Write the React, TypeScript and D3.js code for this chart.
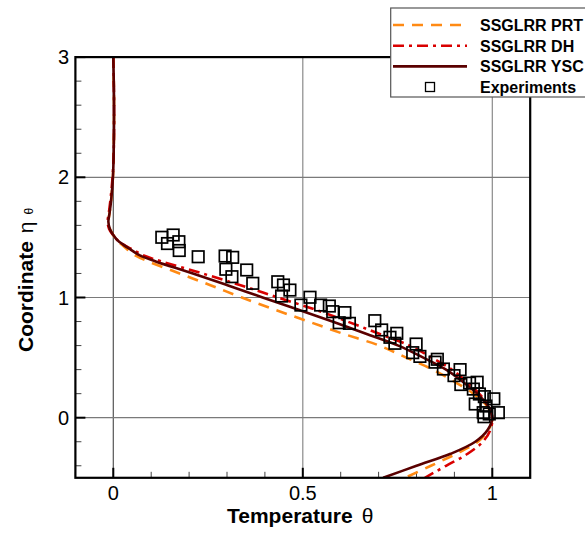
import React from "react";
import * as d3 from "d3";

const W = 585;
const H = 533;

const etaLevels = [3.0, 2.6, 2.2, 2.0, 1.8, 1.7, 1.63, 1.57, 1.52, 1.48, 1.44, 1.4, 1.35, 1.3, 1.2, 1.1, 1.0, 0.9, 0.8, 0.7, 0.6, 0.5, 0.4, 0.3, 0.2, 0.1, 0.0, -0.1, -0.2, -0.3, -0.4, -0.5];

const thetaYSC = [0.0, 0.002, 0.001, -0.001, -0.006, -0.01, -0.013, -0.009, 0.0, 0.01, 0.026, 0.045, 0.07, 0.112, 0.21, 0.303, 0.394, 0.487, 0.578, 0.665, 0.752, 0.818, 0.878, 0.922, 0.96, 0.988, 1.0, 0.988, 0.955, 0.89, 0.8, 0.712];

const thetaPRT = [0.0, 0.002, 0.001, -0.001, -0.006, -0.01, -0.013, -0.009, 0.0, 0.008, 0.022, 0.037, 0.058, 0.092, 0.175, 0.258, 0.339, 0.425, 0.515, 0.605, 0.702, 0.773, 0.843, 0.9, 0.95, 0.985, 1.0, 0.99, 0.962, 0.905, 0.838, 0.77];

const thetaDH = [0.0, 0.002, 0.001, -0.002, -0.008, -0.012, -0.015, -0.011, -0.001, 0.01, 0.027, 0.05, 0.08, 0.127, 0.235, 0.338, 0.434, 0.532, 0.618, 0.7, 0.782, 0.84, 0.893, 0.932, 0.965, 0.991, 1.0, 0.995, 0.975, 0.935, 0.878, 0.822];

const expTheta = [0.128, 0.158, 0.143, 0.173, 0.174, 0.224, 0.295, 0.315, 0.297, 0.313, 0.352, 0.368, 0.434, 0.449, 0.466, 0.444, 0.495, 0.519, 0.547, 0.57, 0.579, 0.611, 0.596, 0.623, 0.69, 0.708, 0.73, 0.748, 0.743, 0.799, 0.79, 0.809, 0.855, 0.849, 0.871, 0.915, 0.899, 0.917, 0.96, 0.94, 0.95, 0.966, 0.979, 1.004, 0.955, 0.983, 1.016, 0.976, 0.978, 0.992];
const expEta = [1.501, 1.52, 1.449, 1.464, 1.391, 1.339, 1.345, 1.334, 1.235, 1.173, 1.229, 1.118, 1.131, 1.104, 1.062, 1.012, 0.937, 1.002, 0.937, 0.929, 0.882, 0.874, 0.79, 0.785, 0.807, 0.73, 0.669, 0.702, 0.619, 0.613, 0.541, 0.51, 0.486, 0.462, 0.405, 0.4, 0.35, 0.276, 0.295, 0.288, 0.238, 0.197, 0.175, 0.157, 0.114, 0.097, 0.042, 0.042, 0.008, 0.031];

const xMajor = [0, 0.5, 1];
const xMinor = [-0.1, 0.1, 0.2, 0.3, 0.4, 0.6, 0.7, 0.8, 0.9, 1.1];
const yMajor = [0, 1, 2, 3];
const yMinor = [-0.4, -0.2, 0.2, 0.4, 0.6, 0.8, 1.2, 1.4, 1.6, 1.8, 2.2, 2.4, 2.6, 2.8];
const xTickLabels = ["0", "0.5", "1"];
const yTickLabels = ["0", "1", "2", "3"];

const seriesNames = ["SSGLRR PRT", "SSGLRR DH", "SSGLRR YSC", "Experiments"];

const FONT = "'Liberation Sans', Arial, Helvetica, sans-serif";

export default function App() {
  const x = d3.scaleLinear().domain([-0.1, 1.1]).range([75.4, 530.2]);
  const y = d3.scaleLinear().domain([-0.5, 3]).range([477.8, 57.1]);
  const [x0, x1] = x.range();
  const [y0, y1] = y.range();

  const line = d3
    .line<[number, number]>()
    .x((d) => x(d[0]))
    .y((d) => y(d[1]))
    .curve(d3.curveCatmullRom.alpha(0.5));

  const mk = (th: number[]) => etaLevels.map((e, i) => [th[i], e] as [number, number]);

  const series = [
    { name: seriesNames[0], data: mk(thetaPRT), color: "#ff8a14", dash: "11 8", width: 2.6 },
    { name: seriesNames[1], data: mk(thetaDH), color: "#d90000", dash: "11 5 3 5", width: 2.6 },
    { name: seriesNames[2], data: mk(thetaYSC), color: "#5a0000", dash: "", width: 2.6 },
  ];

  const sq = 11.5;

  return (
    <svg width={W} height={H} style={{ position: "absolute", left: 0, top: 0, background: "#fff" }} fontFamily={FONT}>
      <defs>
        <clipPath id="plotclip">
          <rect x={x0} y={y1} width={x1 - x0} height={y0 - y1} />
        </clipPath>
      </defs>
      <rect x={0} y={0} width={W} height={H} fill="#fff" />
      {/* grid */}
      {xMajor.map((v) => (
        <line key={"gx" + v} x1={x(v)} x2={x(v)} y1={y0} y2={y1} stroke={v === 0 ? "#555" : "#8a8a8a"} strokeWidth={1.2} />
      ))}
      {yMajor.map((v) => (
        <line key={"gy" + v} x1={x0} x2={x1} y1={y(v)} y2={y(v)} stroke="#7a7a7a" strokeWidth={1.2} />
      ))}
      {/* ticks */}
      {xMajor.map((v) => (
        <line key={"tx" + v} x1={x(v)} x2={x(v)} y1={y0} y2={y0 - 10} stroke="#000" strokeWidth={2} />
      ))}
      {xMinor.map((v) => (
        <line key={"tmx" + v} x1={x(v)} x2={x(v)} y1={y0} y2={y0 - 6} stroke="#444" strokeWidth={1} />
      ))}
      {yMajor.map((v) => (
        <line key={"ty" + v} x1={x0} x2={x0 + 10} y1={y(v)} y2={y(v)} stroke="#000" strokeWidth={2} />
      ))}
      {yMinor.map((v) => (
        <line key={"tmy" + v} x1={x0} x2={x0 + 6} y1={y(v)} y2={y(v)} stroke="#444" strokeWidth={1} />
      ))}
      {/* curves */}
      <g clipPath="url(#plotclip)">
        {series.map((s) => (
          <path key={s.name} d={line(s.data) || ""} fill="none" stroke={s.color} strokeWidth={s.width} strokeDasharray={s.dash || undefined} />
        ))}
        {expTheta.map((t, i) => (
          <rect key={"e" + i} x={x(t) - sq / 2} y={y(expEta[i]) - sq / 2} width={sq} height={sq} fill="none" stroke="#000" strokeWidth={1.7} />
        ))}
      </g>
      {/* frame */}
      <rect x={x0} y={y1} width={x1 - x0} height={y0 - y1} fill="none" stroke="#000" strokeWidth={2.2} />
      {/* tick labels */}
      {xMajor.map((v, i) => (
        <text key={"lx" + v} x={x(v)} y={499.5} fontSize={20} textAnchor="middle" fill="#000">
          {xTickLabels[i]}
        </text>
      ))}
      {yMajor.map((v, i) => (
        <text key={"ly" + v} x={69} y={y(v) + 7} fontSize={20} textAnchor="end" fill="#000">
          {yTickLabels[i]}
        </text>
      ))}
      {/* axis titles */}
      <text x={227} y={523} fontSize={21} fontWeight="bold" fill="#000">
        Temperature
        <tspan fontWeight="normal" dx={9}>θ</tspan>
      </text>
      <text transform="translate(33,352) rotate(-90)" fontSize={21} fontWeight="bold" fill="#000">
        Coordinate
        <tspan fontWeight="normal" dx={8}>η</tspan>
        <tspan fontWeight="normal" fontSize={12} dx={7} dy={0}>θ</tspan>
      </text>
      {/* legend */}
      <rect x={390.7} y={8} width={220} height={89} fill="#fff" stroke="#555" strokeWidth={1.2} />
      {series.map((s, i) => (
        <g key={"lg" + i}>
          <line x1={393} x2={467} y1={25 + i * 20.7} y2={25 + i * 20.7} stroke={s.color} strokeWidth={s.width} strokeDasharray={s.dash || undefined} />
          <text x={480} y={25 + i * 20.7 + 6} fontSize={16} fontWeight="bold" fill="#000">
            {s.name}
          </text>
        </g>
      ))}
      <rect x={430 - 4.5} y={87 - 4.5} width={9} height={9} fill="none" stroke="#000" strokeWidth={1.3} />
      <text x={480} y={87 + 6} fontSize={16} fontWeight="bold" fill="#000">
        {seriesNames[3]}
      </text>
    </svg>
  );
}
